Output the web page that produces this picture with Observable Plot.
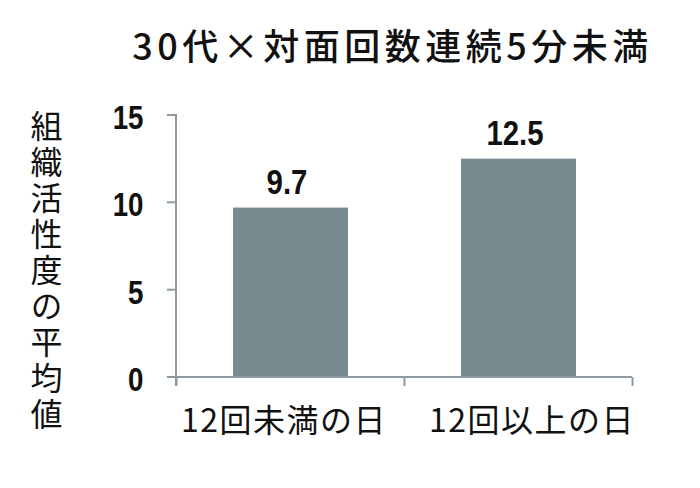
<!DOCTYPE html>
<html>
<head>
<meta charset="utf-8">
<script src="https://cdn.jsdelivr.net/npm/d3@7"></script>
<script src="https://cdn.jsdelivr.net/npm/@observablehq/plot@0.6"></script>
<style>
  html, body { margin: 0; padding: 0; background: #fff; }
  svg { display: block; }
</style>
</head>
<body>
<div id="chart"></div>
<script>
const title = "30代×対面回数連続5分未満";
const yLabel = "組織活性度の平均値";
const categories = ["12回未満の日", "12回以上の日"];
const values = [9.7, 12.5];
const valueLabels = ["9.7", "12.5"];
const yTicks = [0, 5, 10, 15];

const data = categories.map((c, i) => ({category: c, value: values[i], label: valueLabels[i]}));

const axisColor = "#8d9ba1";
const barColor = "#788a90";
const narrow = "'Liberation Sans Narrow', 'Arial Narrow', 'Liberation Sans', Arial, sans-serif";
const cjk = "'Noto Sans CJK JP', 'Noto Sans', sans-serif";

// axes drawn from the plot's own scales
function axesMark(index, scales, values, dimensions) {
  const x = scales.x, y = scales.y;
  const bw = x.bandwidth();
  const step = x.step();
  const left = dimensions.marginLeft;
  const right = dimensions.width - dimensions.marginRight;
  const g = d3.create("svg:g").attr("stroke", axisColor).attr("stroke-width", 2);
  g.append("line").attr("x1", left).attr("x2", left).attr("y1", y(15) - 1).attr("y2", y(0) + 9);
  for (const t of yTicks) {
    g.append("line").attr("x1", left - 9).attr("x2", left).attr("y1", y(t)).attr("y2", y(t));
  }
  g.append("line").attr("x1", left).attr("x2", right).attr("y1", y(0)).attr("y2", y(0));
  const bounds = categories.map(c => x(c) + bw / 2 - step / 2);
  bounds.push(x(categories[categories.length - 1]) + bw / 2 + step / 2);
  for (const b of bounds) {
    g.append("line").attr("x1", b).attr("x2", b).attr("y1", y(0)).attr("y2", y(0) + 9);
  }
  return g.node();
}

const plot = Plot.plot({
  width: 700,
  height: 488,
  marginLeft: 176,
  marginRight: 68,
  marginTop: 115,
  marginBottom: 111,
  style: {fontFamily: cjk, background: "#fff"},
  x: {domain: categories, paddingInner: 0.496, paddingOuter: 0.248, axis: null},
  y: {domain: [0, 15], axis: null},
  marks: [
    Plot.barY(data, {x: "category", y: "value", fill: barColor}),
    axesMark,
    Plot.text(yTicks, {y: d => d, frameAnchor: "left", text: d => String(d), textAnchor: "end", dx: -33, dy: 3,
      fontSize: 33, fontWeight: "bold", fontFamily: narrow, fill: "#111", ariaLabel: () => "condensed"}),
    Plot.text(data, {filter: (d, i) => i === 0, x: "category", frameAnchor: "bottom", text: "category", dy: 54, dx: -7,
      fontSize: 32, fill: "#111", fontFamily: cjk, ariaLabel: () => "xlabels"}),
    Plot.text(data, {filter: (d, i) => i === 1, x: "category", frameAnchor: "bottom", text: "category", dy: 54, dx: 13,
      fontSize: 32, fill: "#111", fontFamily: cjk, ariaLabel: () => "xlabels"}),
    Plot.text(data, {x: "category", y: "value", text: "label", dy: -25, dx: -4,
      fontSize: 35, fontWeight: "bold", fontFamily: narrow, fill: "#111", ariaLabel: () => "condensed"}),
    Plot.text([title], {frameAnchor: "top", text: d => d, dy: -81, dx: -12,
      fontSize: 36, fontWeight: 500, fill: "#111", fontFamily: cjk, ariaLabel: () => "title"}),
    Plot.text([yLabel], {frameAnchor: "left", textAnchor: "middle", text: d => d, dx: -130, dy: 15,
      fontSize: 32, fill: "#111", fontFamily: cjk, ariaLabel: () => "ylabel"})
  ]
});

// condense the bold numeric labels (narrow face look)
d3.select(plot).selectAll('text[aria-label="condensed"]').each(function() {
  const t = d3.select(this);
  const x = +t.attr("x") || 0;
  const prev = t.attr("transform") || "";
  t.attr("transform", `${prev} translate(${x},0) scale(0.84,1) translate(${-x},0)`);
});
d3.select(plot).selectAll('text[aria-label="title"]').style("letter-spacing", "4.5px");
d3.select(plot).selectAll('text[aria-label="xlabels"]').style("letter-spacing", "1.5px");
// vertical y label
d3.select(plot).selectAll('text[aria-label="ylabel"]')
  .attr("dy", null)
  .attr("writing-mode", "vertical-rl")
  .style("writing-mode", "vertical-rl")
  .style("letter-spacing", "4px");

document.getElementById("chart").appendChild(plot);
</script>
</body>
</html>
